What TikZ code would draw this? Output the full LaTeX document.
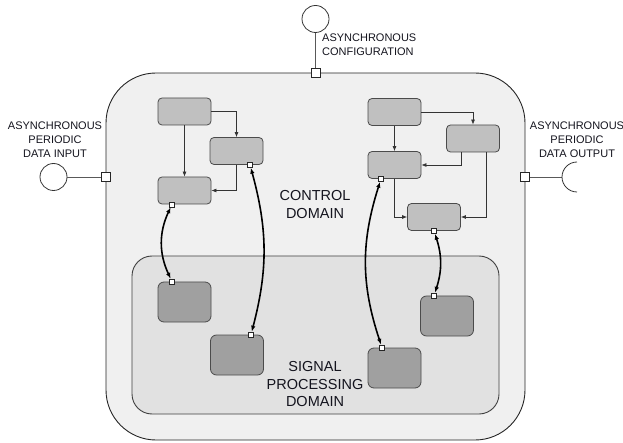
\documentclass[tikz,border=0pt]{standalone}
\usepackage{fontspec}
\setmainfont{Liberation Sans}
\usetikzlibrary{arrows.meta, positioning, calc}
\definecolor{domfill}{RGB}{240,240,240}
\definecolor{spfill}{RGB}{225,225,225}
\definecolor{ctlfill}{RGB}{192,192,192}
\definecolor{sigfill}{RGB}{160,160,160}
\definecolor{edgegray}{RGB}{75,75,75}
\definecolor{txtdark}{RGB}{20,20,30}

\begin{document}
\begin{tikzpicture}[
    x=1pt, y=-1pt,
    dombox/.style={rectangle, draw=black!85, fill=domfill, line width=0.9pt, inner sep=0pt},
    ctlblock/.style={rectangle, draw=edgegray, fill=ctlfill, minimum width=53pt, minimum height=27pt, inner sep=0pt, rounded corners=4pt, line width=0.8pt},
    sigblock/.style={rectangle, draw=edgegray, fill=sigfill, minimum width=53pt, minimum height=40pt, inner sep=0pt, rounded corners=6pt, line width=0.8pt},
    port/.style={rectangle, draw=black!85, fill=white, minimum size=9pt, inner sep=0pt, line width=0.8pt},
    pin/.style={rectangle, draw=black!85, fill=white, minimum size=5pt, inner sep=0pt, line width=0.6pt},
    ext/.style={circle, draw=black!80, fill=white, minimum size=27pt, inner sep=0pt, line width=0.8pt},
    portline/.style={draw=black!65, line width=0.9pt},
    flow/.style={-{Latex[length=5pt,width=4pt]}, draw=black!80, line width=0.7pt},
    link/.style={{Latex[length=6pt,width=4.5pt]}-{Latex[length=6pt,width=4.5pt]}, line width=1.6pt, black},
    lbl/.style={font=\fontsize{11}{14}\selectfont, text=txtdark, align=center, inner sep=0pt},
    domtxt/.style={font=\fontsize{14.5}{17.5}\selectfont, text=txtdark, align=center, inner sep=0pt}
]
\useasboundingbox (0,0) rectangle (623,443);

% domains
\node[dombox, minimum width=419pt, minimum height=367pt, rounded corners=50pt] (ctrl) at (315.5,256.5) {};
\node[dombox, draw=black!75, fill=spfill, minimum width=367pt, minimum height=158pt, rounded corners=20pt] (sp) at (315.5,335) {};
\node[domtxt] (ctrltxt) at (315,204.5) {CONTROL\\DOMAIN};
\node[domtxt] (sptxt) at (315,384.5) {SIGNAL\\PROCESSING\\DOMAIN};

% external ports
\node[port] (cfgP) at (ctrl.north) {};
\node[ext] (cfg) at (315.5,19) {};
\draw[portline] (cfg) -- (cfgP);
\node[lbl, align=left, anchor=north west] (cfgtxt) at (322,34) {ASYNCHRONOUS\\CONFIGURATION};

\node[port] (inP) at (106,177) {};
\node[ext] (in) at (53.5,177) {};
\draw[portline] (in) -- (inP);
\node[lbl] (intxt) at (55,139.5) {ASYNCHRONOUS\\PERIODIC\\DATA INPUT};

\node[port] (outP) at (525,177) {};
\coordinate (outC) at (577,177);
\draw[portline] (outP) -- ($(outC)+(-15,0)$);
\draw[black!80, line width=0.8pt] (outC) ++(0,-15) arc[start angle=270, end angle=90, radius=15];
\node[lbl] (outtxt) at (577,139.5) {ASYNCHRONOUS\\PERIODIC\\DATA OUTPUT};

% control blocks, left group
\node[ctlblock] (cA) at (184.5,111.5) {};
\node[ctlblock] (cB) at (236.5,151) {};
\node[ctlblock] (cC) at (184.5,190.5) {};
\draw[flow] (cA.south) -- (cC.north);
\draw[flow] (cA.east) -| (cB.north);
\draw[flow] (cB.south) |- (cC.east);

% control blocks, right group
\node[ctlblock] (cD) at (394.5,112) {};
\node[ctlblock] (cE) at (473,138.5) {};
\node[ctlblock] (cF) at (394.5,165) {};
\node[ctlblock] (cG) at (434,217) {};
\draw[flow] (cD.south) -- (cF.north);
\draw[flow] (cD.east) -| (cE.north);
\draw[flow] ([xshift=-12pt]cE.south) |- (cF.east);
\draw[flow] ([xshift=13pt]cE.south) |- (cG.east);
\draw[flow] (cF.south) |- (cG.west);

% signal processing blocks
\node[sigblock] (s1) at (184.5,302) {};
\node[sigblock] (s2) at (237,355) {};
\node[sigblock] (s3) at (394.5,368) {};
\node[sigblock] (s4) at (447,316) {};

% pins
\node[pin] (pC) at ([xshift=-12.5pt]cC.south) {};
\node[pin] (pB) at ([xshift=13.5pt]cB.south) {};
\node[pin] (pF) at ([xshift=-13.5pt]cF.south) {};
\node[pin] (pG) at (cG.south) {};
\node[pin] (p1) at ([xshift=-12.5pt]s1.north) {};
\node[pin] (p2) at ([xshift=14pt]s2.north) {};
\node[pin] (p3) at ([xshift=-12.5pt]s3.north) {};
\node[pin] (p4) at ([xshift=-13pt]s4.north) {};

% links between domains
\draw[link] (pC) to[bend right=25] (p1);
\draw[link] (pB) to[bend left=15] (p2);
\draw[link] (pF) to[bend right=18] (p3);
\draw[link] (pG) to[bend left=18] (p4);

\end{tikzpicture}
\end{document}
